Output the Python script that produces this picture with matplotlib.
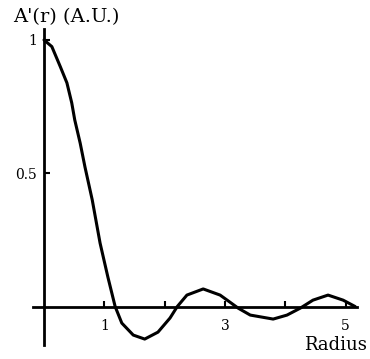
import numpy as np
import matplotlib.pyplot as plt

# Valores
radius = [0.0, 0.13, 0.27, 0.38, 0.46, 0.51, 0.60, 0.68, 0.80, 0.93, 1.06,
          1.18, 1.29, 1.48, 1.67, 1.89, 2.09, 2.21, 2.37, 2.64, 2.92, 3.08,
          3.22, 3.42, 3.80, 4.03, 4.25, 4.46, 4.71, 4.96, 5.16]
amp = [1.0, 0.975, 0.90, 0.839, 0.764, 0.70, 0.613, 0.523, 0.40, 0.238, 0.11,
       0.0, -0.062, -0.107, -0.122, -0.096, -0.043, 0.0, 0.043, 0.066, 0.043, 0.017,
       -0.006, -0.032, -0.047, -0.032, -0.006, 0.024, 0.043, 0.024, 0.0]

xticks = [1, 2, 3, 4, 5]
xticklabels = ['1', '', '3', '', '5']
yticks = [0.5, 1]
yticklabels = ['0.5', '1']

plt.rcParams['font.family'] = ['DejaVu Serif']

fig = plt.figure(figsize=(3.7, 3.59), dpi=100)
ax = fig.add_axes([30 / 370, 9 / 359, 330 / 370, 325 / 359])

ax.plot(radius, amp, color='black', linewidth=2.2, solid_capstyle='round',
        solid_joinstyle='round')

ax.set_xlim(-0.232, 5.24)
ax.set_ylim(-0.163, 1.056)

for s in ['top', 'right']:
    ax.spines[s].set_visible(False)
ax.spines['left'].set_position(('data', 0))
ax.spines['bottom'].set_position(('data', 0))
ax.spines['left'].set_bounds(-0.145, 1.04)
ax.spines['bottom'].set_bounds(-0.18, 5.19)
ax.spines['left'].set_linewidth(2)
ax.spines['bottom'].set_linewidth(2)

ax.set_xticks(xticks)
ax.set_xticklabels(xticklabels)
ax.set_yticks(yticks)
ax.set_yticklabels(yticklabels)
ax.tick_params(axis='both', direction='in', length=4, width=1.5, labelsize=10)
ax.tick_params(axis='x', pad=9)
ax.tick_params(axis='y', pad=5)

fig.text(13 / 370, 1 - 22 / 359, "A'(r) (A.U.)", fontsize=14, ha='left', va='baseline')
fig.text(367 / 370, 1 - 350 / 359, "Radius", fontsize=13, ha='right', va='baseline')

fig.savefig('out.png', dpi=100)
